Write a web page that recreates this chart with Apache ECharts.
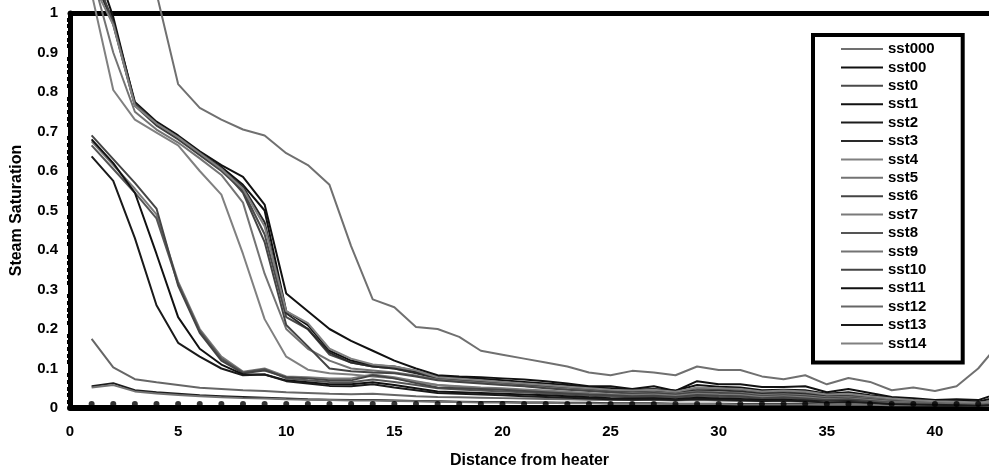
<!DOCTYPE html>
<html>
<head>
<meta charset="utf-8">
<script src="https://cdn.jsdelivr.net/npm/echarts@6/dist/echarts.min.js"></script>
<style>html,body{margin:0;padding:0;background:#fff;}#chart{width:989px;height:474px;}</style>
</head>
<body>
<div id="chart"></div>
<script>
const distance = [1,2,3,4,5,6,7,8,9,10,11,12,13,14,15,16,17,18,19,20,21,22,23,24,25,26,27,28,29,30,31,32,33,34,35,36,37,38,39,40,41,42,43];
const yTicks = ['0','0.1','0.2','0.3','0.4','0.5','0.6','0.7','0.8','0.9','1'];
const seriesNames = ['sst000','sst00','sst0','sst1','sst2','sst3','sst4','sst5','sst6','sst7','sst8','sst9','sst10','sst11','sst12','sst13','sst14'];
const seriesColors = ['#707070','#111111','#4a4a4a','#111111','#1c1c1c','#2a2a2a','#808080','#737373','#444444','#7a7a7a','#555555','#737373','#444444','#111111','#666666','#1a1a1a','#808080'];

const sst000 = [1.6,1.45,1.25,1.05,0.82,0.76,0.73,0.705,0.69,0.645,0.615,0.565,0.41,0.275,0.255,0.205,0.2,0.18,0.145,0.135,0.125,0.115,0.105,0.09,0.083,0.094,0.09,0.083,0.105,0.096,0.096,0.08,0.073,0.083,0.06,0.076,0.066,0.045,0.052,0.043,0.055,0.1,0.165];
const sst00 = [1.1,0.98,0.775,0.725,0.69,0.65,0.615,0.585,0.515,0.29,0.245,0.2,0.17,0.145,0.12,0.1,0.083,0.08,0.078,0.075,0.072,0.068,0.062,0.055,0.055,0.048,0.055,0.043,0.068,0.06,0.06,0.053,0.053,0.055,0.04,0.048,0.038,0.028,0.025,0.02,0.022,0.02,0.038];
const sst0 = [1.12,0.97,0.765,0.715,0.68,0.64,0.6,0.55,0.44,0.23,0.2,0.135,0.115,0.105,0.1,0.09,0.075,0.072,0.068,0.064,0.06,0.056,0.052,0.048,0.045,0.042,0.045,0.04,0.05,0.048,0.046,0.04,0.042,0.038,0.032,0.034,0.028,0.024,0.02,0.018,0.016,0.014,0.02];
const sst1 = [1.15,0.99,0.77,0.72,0.685,0.645,0.61,0.565,0.5,0.245,0.21,0.145,0.12,0.108,0.105,0.093,0.08,0.078,0.074,0.07,0.066,0.062,0.058,0.052,0.05,0.046,0.048,0.044,0.058,0.054,0.052,0.045,0.046,0.045,0.036,0.04,0.032,0.026,0.022,0.018,0.02,0.016,0.03];
const sst2 = [0.055,0.063,0.045,0.04,0.036,0.032,0.03,0.028,0.026,0.024,0.022,0.021,0.02,0.02,0.019,0.018,0.017,0.016,0.015,0.015,0.014,0.014,0.013,0.013,0.012,0.012,0.012,0.011,0.011,0.011,0.01,0.01,0.01,0.01,0.009,0.009,0.009,0.008,0.008,0.008,0.008,0.007,0.007];
const sst3 = [1.1,0.975,0.768,0.718,0.683,0.643,0.605,0.56,0.47,0.24,0.2,0.14,0.115,0.105,0.1,0.088,0.075,0.07,0.066,0.062,0.058,0.054,0.05,0.046,0.042,0.04,0.042,0.038,0.045,0.044,0.042,0.036,0.038,0.035,0.03,0.03,0.025,0.02,0.018,0.015,0.014,0.012,0.015];
const sst4 = [1.05,0.805,0.73,0.697,0.665,0.6,0.54,0.39,0.225,0.13,0.097,0.088,0.085,0.08,0.075,0.066,0.058,0.054,0.05,0.047,0.044,0.041,0.038,0.035,0.033,0.032,0.033,0.03,0.036,0.034,0.033,0.028,0.03,0.027,0.022,0.024,0.02,0.016,0.014,0.012,0.012,0.01,0.012];
const sst5 = [1.1,0.9,0.75,0.705,0.672,0.632,0.59,0.52,0.34,0.2,0.15,0.12,0.1,0.095,0.09,0.082,0.072,0.068,0.064,0.06,0.056,0.052,0.048,0.044,0.04,0.038,0.04,0.036,0.042,0.04,0.038,0.033,0.035,0.032,0.027,0.028,0.024,0.019,0.016,0.014,0.013,0.011,0.014];
const sst6 = [1.12,0.975,0.77,0.72,0.686,0.646,0.607,0.545,0.42,0.21,0.156,0.1,0.093,0.09,0.088,0.08,0.07,0.066,0.062,0.058,0.055,0.05,0.046,0.043,0.04,0.036,0.038,0.034,0.04,0.038,0.036,0.03,0.032,0.03,0.025,0.026,0.022,0.018,0.015,0.013,0.012,0.01,0.012];
const sst7 = [0.675,0.615,0.555,0.49,0.32,0.2,0.13,0.092,0.1,0.08,0.078,0.075,0.075,0.085,0.078,0.068,0.058,0.055,0.052,0.05,0.047,0.044,0.041,0.038,0.035,0.033,0.034,0.031,0.036,0.034,0.033,0.028,0.03,0.027,0.022,0.024,0.02,0.016,0.014,0.012,0.011,0.01,0.012];
const sst8 = [0.665,0.605,0.545,0.48,0.315,0.195,0.125,0.09,0.098,0.075,0.07,0.066,0.065,0.072,0.066,0.058,0.05,0.047,0.044,0.042,0.04,0.037,0.034,0.031,0.029,0.027,0.028,0.026,0.03,0.028,0.027,0.023,0.025,0.022,0.018,0.02,0.016,0.013,0.011,0.01,0.009,0.008,0.01];
const sst9 = [0.052,0.058,0.042,0.037,0.033,0.03,0.027,0.025,0.024,0.022,0.021,0.02,0.019,0.019,0.018,0.017,0.016,0.015,0.014,0.014,0.013,0.013,0.012,0.012,0.011,0.011,0.011,0.01,0.01,0.01,0.009,0.009,0.009,0.009,0.008,0.008,0.008,0.007,0.007,0.007,0.007,0.006,0.006];
const sst10 = [0.69,0.63,0.57,0.505,0.31,0.19,0.12,0.088,0.095,0.078,0.075,0.07,0.07,0.083,0.075,0.063,0.052,0.05,0.048,0.046,0.043,0.04,0.037,0.034,0.032,0.03,0.031,0.028,0.033,0.031,0.03,0.025,0.027,0.024,0.02,0.022,0.018,0.014,0.012,0.011,0.01,0.009,0.011];
const sst11 = [0.68,0.62,0.545,0.39,0.23,0.15,0.11,0.085,0.085,0.07,0.065,0.06,0.06,0.065,0.058,0.05,0.042,0.04,0.038,0.036,0.034,0.032,0.03,0.027,0.025,0.024,0.025,0.022,0.026,0.024,0.023,0.02,0.021,0.019,0.016,0.017,0.014,0.011,0.01,0.009,0.008,0.007,0.009];
const sst12 = [0.175,0.103,0.073,0.065,0.058,0.051,0.048,0.045,0.043,0.04,0.038,0.036,0.035,0.036,0.033,0.03,0.028,0.027,0.026,0.025,0.024,0.023,0.022,0.021,0.02,0.02,0.02,0.019,0.02,0.019,0.018,0.017,0.017,0.016,0.015,0.015,0.014,0.013,0.012,0.011,0.011,0.01,0.011];
const sst13 = [0.637,0.575,0.43,0.26,0.165,0.13,0.1,0.083,0.085,0.068,0.062,0.056,0.055,0.06,0.052,0.045,0.038,0.036,0.034,0.032,0.03,0.028,0.026,0.024,0.022,0.021,0.022,0.02,0.023,0.021,0.02,0.018,0.019,0.017,0.014,0.015,0.013,0.01,0.009,0.008,0.007,0.006,0.008];
const sst14 = [1.08,0.97,0.765,0.72,0.685,0.645,0.605,0.555,0.46,0.245,0.215,0.15,0.125,0.11,0.105,0.095,0.078,0.074,0.07,0.066,0.062,0.058,0.054,0.05,0.046,0.044,0.046,0.041,0.052,0.05,0.048,0.042,0.044,0.042,0.034,0.036,0.03,0.024,0.02,0.017,0.016,0.014,0.018];
const boundary = [0.01,0.01,0.01,0.01,0.01,0.01,0.01,0.01,0.01,0.01,0.01,0.01,0.01,0.01,0.01,0.01,0.01,0.01,0.01,0.01,0.01,0.01,0.01,0.01,0.01,0.01,0.01,0.01,0.01,0.01,0.01,0.01,0.01,0.01,0.01,0.01,0.01,0.01,0.01,0.01,0.01,0.01,0.01];

const allValues = [sst000,sst00,sst0,sst1,sst2,sst3,sst4,sst5,sst6,sst7,sst8,sst9,sst10,sst11,sst12,sst13,sst14];

const FONT = 'Liberation Sans, Arial, sans-serif';
const pairs = vals => distance.map((x, i) => [x, vals[i]]);

const series = allValues.map((vals, k) => ({
  name: seriesNames[k],
  type: 'line',
  data: pairs(vals),
  symbol: 'none',
  clip: false,
  color: seriesColors[k],
  lineStyle: { width: 2, color: seriesColors[k] },
  z: 3
}));
series.push({
  name: 'boundary',
  type: 'scatter',
  data: pairs(boundary),
  symbol: 'circle',
  symbolSize: 6,
  itemStyle: { color: '#000' },
  z: 4
});

const chart = echarts.init(document.getElementById('chart'), null, { renderer: 'canvas' });
chart.setOption({
  animation: false,
  backgroundColor: '#fff',
  grid: { left: 70, right: 0, top: 13, bottom: 65 },
  legend: {
    data: seriesNames,
    orient: 'vertical',
    left: 813,
    top: 35,
    padding: [5, 28, 10, 28],
    itemWidth: 42,
    itemHeight: 2,
    itemGap: 0.4,
    icon: 'rect',
    borderColor: '#000',
    borderWidth: 4,
    backgroundColor: '#fff',
    textStyle: { fontFamily: FONT, fontWeight: 'bold', fontSize: 15, color: '#000', lineHeight: 18 }
  },
  xAxis: [{
    type: 'value', min: 0, max: 42.5, interval: 5,
    name: 'Distance from heater', nameLocation: 'middle', nameGap: 45,
    nameTextStyle: { fontFamily: FONT, fontWeight: 'bold', fontSize: 16, color: '#000' },
    axisLine: { lineStyle: { color: '#000', width: 6 } },
    axisTick: { show: false },
    splitLine: { show: false },
    axisLabel: { fontFamily: FONT, fontWeight: 'bold', fontSize: 15, color: '#000', margin: 16, showMaxLabel: false }
  }, {
    type: 'value', min: 0, max: 42.5, position: 'top',
    axisLine: { lineStyle: { color: '#000', width: 5 } },
    axisTick: { show: false }, axisLabel: { show: false }, splitLine: { show: false }
  }],
  yAxis: {
    type: 'value', min: 0, max: 1, interval: 0.1,
    name: 'Steam Saturation', nameLocation: 'middle', nameGap: 45,
    nameTextStyle: { fontFamily: FONT, fontWeight: 'bold', fontSize: 16, color: '#000' },
    axisLine: { show: true, lineStyle: { color: '#000', width: 5 } },
    axisTick: { show: false },
    minorTick: { show: true, splitNumber: 6, length: 3, lineStyle: { color: '#000', width: 4 } },
    splitLine: { show: false },
    axisLabel: {
      fontFamily: FONT, fontWeight: 'bold', fontSize: 15, color: '#000', margin: 12,
      formatter: v => yTicks[Math.round(v * 10)]
    }
  },
  series: series
});
</script>
</body>
</html>
